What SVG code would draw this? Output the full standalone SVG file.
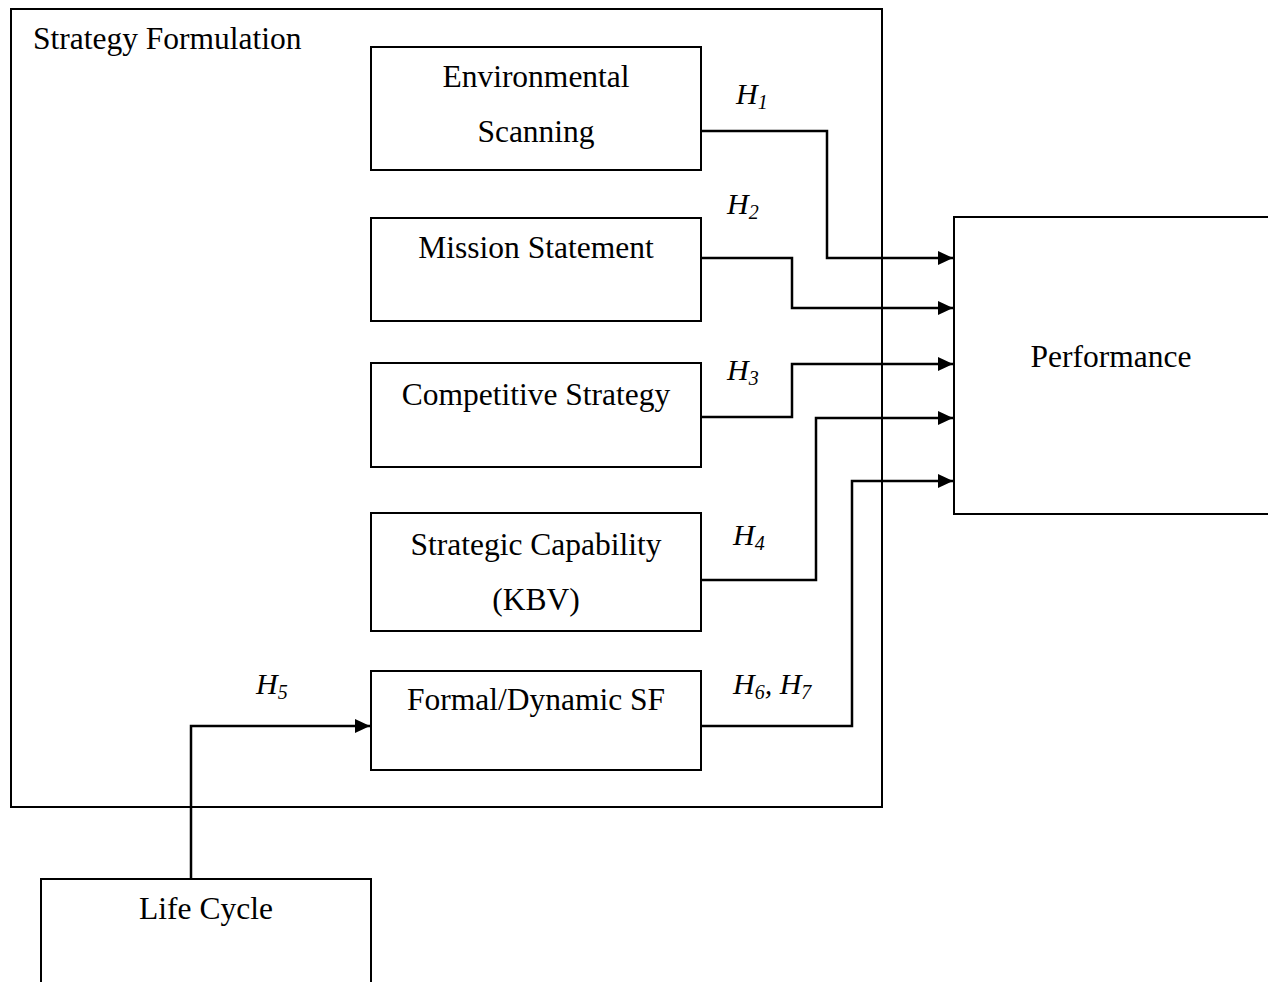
<svg xmlns="http://www.w3.org/2000/svg" width="1268" height="982" viewBox="0 0 1268 982">
  <style>
    .box { fill: #fff; stroke: #000; stroke-width: 2; }
    .frame { fill: none; stroke: #000; stroke-width: 2; }
    .lbl { font-family: "Liberation Serif", "Times New Roman", serif; font-size: 31.5px; fill: #000; }
    .mid { text-anchor: middle; }
    .hyp { font-family: "Liberation Serif", "Times New Roman", serif; font-size: 30px; font-style: italic; fill: #000; }
    .sub { font-size: 20px; }
    .wire { fill: none; stroke: #000; stroke-width: 2.5; }
  </style>
  <defs>
    <marker id="arrow" markerWidth="16" markerHeight="14" refX="15" refY="7" orient="auto" markerUnits="userSpaceOnUse">
      <path d="M0,0 L15,7 L0,14 Z" fill="#000"/>
    </marker>
  </defs>
  <rect width="1268" height="982" fill="#fff"/>

  <!-- enclosing group -->
  <g id="strategy-formulation">
    <rect class="frame" x="11" y="9" width="871" height="798"/>
    <text class="lbl" x="33" y="49">Strategy Formulation</text>
  </g>

  <!-- connectors -->
  <g id="connectors">
    <path class="wire" d="M701,131 H827 V258 H953" marker-end="url(#arrow)"/>
    <path class="wire" d="M701,258 H792 V308 H953" marker-end="url(#arrow)"/>
    <path class="wire" d="M701,417 H792 V364 H953" marker-end="url(#arrow)"/>
    <path class="wire" d="M701,580 H816 V418 H953" marker-end="url(#arrow)"/>
    <path class="wire" d="M701,726 H852 V481 H953" marker-end="url(#arrow)"/>
    <path class="wire" d="M191,879 V726 H370" marker-end="url(#arrow)"/>
  </g>

  <g id="environmental-scanning">
    <rect class="box" x="371" y="47" width="330" height="123"/>
    <text class="lbl mid" x="536" y="87">Environmental</text>
    <text class="lbl mid" x="536" y="142">Scanning</text>
  </g>
  <g id="mission-statement">
    <rect class="box" x="371" y="218" width="330" height="103"/>
    <text class="lbl mid" x="536" y="258">Mission Statement</text>
  </g>
  <g id="competitive-strategy">
    <rect class="box" x="371" y="363" width="330" height="104"/>
    <text class="lbl mid" x="536" y="405">Competitive Strategy</text>
  </g>
  <g id="strategic-capability">
    <rect class="box" x="371" y="513" width="330" height="118"/>
    <text class="lbl mid" x="536" y="555">Strategic Capability</text>
    <text class="lbl mid" x="536" y="610">(KBV)</text>
  </g>
  <g id="formal-dynamic-sf">
    <rect class="box" x="371" y="671" width="330" height="99"/>
    <text class="lbl mid" x="536" y="710">Formal/Dynamic SF</text>
  </g>
  <g id="performance">
    <rect class="box" x="954" y="217" width="320" height="297"/>
    <text class="lbl mid" x="1111" y="367">Performance</text>
  </g>
  <g id="life-cycle">
    <rect class="box" x="41" y="879" width="330" height="120"/>
    <text class="lbl mid" x="206" y="919">Life Cycle</text>
  </g>

  <!-- hypothesis labels -->
  <g id="hypotheses">
    <text class="hyp" x="736" y="104">H<tspan class="sub" dy="5">1</tspan></text>
    <text class="hyp" x="727" y="214">H<tspan class="sub" dy="5">2</tspan></text>
    <text class="hyp" x="727" y="380">H<tspan class="sub" dy="5">3</tspan></text>
    <text class="hyp" x="733" y="545">H<tspan class="sub" dy="5">4</tspan></text>
    <text class="hyp" x="256" y="694">H<tspan class="sub" dy="5">5</tspan></text>
    <text class="hyp" x="733" y="694">H<tspan class="sub" dy="5">6</tspan><tspan dy="-5">, H</tspan><tspan class="sub" dy="5">7</tspan></text>
  </g>
</svg>
